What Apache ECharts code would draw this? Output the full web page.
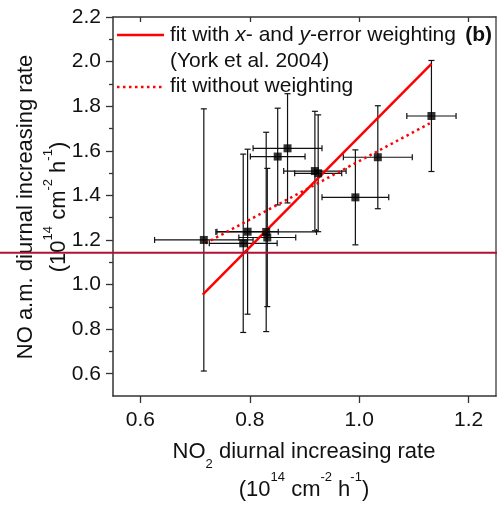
<!DOCTYPE html>
<html>
<head>
<meta charset="utf-8">
<script src="https://cdn.jsdelivr.net/npm/echarts@6/dist/echarts.min.js"></script>
<style>
  html, body { margin: 0; padding: 0; background: #fff; }
  #chart { width: 497px; height: 507px; }
</style>
</head>
<body>
<div id="chart"></div>
<script>
// tick labels
const X_TICKS = [0.6, 0.8, 1.0, 1.2];
const Y_TICKS = [0.6, 0.8, 1.0, 1.2, 1.4, 1.6, 1.8, 2.0, 2.2];
const Y_MINOR = [0.7, 0.9, 1.1, 1.3, 1.5, 1.7, 1.9, 2.1];

// measured points (10^14 cm-2 h-1)
const NO2_RATE = [0.716, 0.796, 0.788, 0.830, 0.832, 0.851, 0.869, 0.919, 0.925, 0.993, 1.034, 1.132];
const NO_RATE  = [1.200, 1.237, 1.185, 1.236, 1.211, 1.574, 1.611, 1.509, 1.499, 1.391, 1.571, 1.756];
const NO2_ERR  = [0.090, 0.056, 0.062, 0.092, 0.052, 0.050, 0.063, 0.057, 0.043, 0.061, 0.063, 0.045];
const NO_ERR   = [0.588, 0.370, 0.400, 0.447, 0.310, 0.217, 0.245, 0.268, 0.262, 0.213, 0.231, 0.249];

// fit lines (end points)
const YORK_X = [0.714, 1.132];
const YORK_Y = [0.955, 1.990];
const OLS_X  = [0.719, 1.129];
const OLS_Y  = [1.185, 1.723];

// horizontal reference line
const HLINE = 1.142;

const FONT = '"Liberation Sans", Arial, sans-serif';
const AX = '#333';

var chart = echarts.init(document.getElementById('chart'));

const points = NO2_RATE.map((x, i) => [x, NO_RATE[i], NO2_ERR[i], NO_ERR[i]]);

function errBar(params, api) {
  const x = api.value(0), y = api.value(1), ex = api.value(2), ey = api.value(3);
  const t = api.coord([x, y + ey]), b = api.coord([x, y - ey]);
  const l = api.coord([x - ex, y]), r = api.coord([x + ex, y]);
  const c = 3;
  const st = { stroke: '#111', lineWidth: 1.2 };
  const ln = (x1, y1, x2, y2) => ({ type: 'line', shape: { x1, y1, x2, y2 }, style: st });
  return {
    type: 'group',
    children: [
      ln(t[0], t[1], b[0], b[1]),
      ln(t[0] - c, t[1], t[0] + c, t[1]),
      ln(b[0] - c, b[1], b[0] + c, b[1]),
      ln(l[0], l[1], r[0], r[1]),
      ln(l[0], l[1] - c, l[0], l[1] + c),
      ln(r[0], r[1] - c, r[0], r[1] + c)
    ]
  };
}

const GRID = { left: 113, top: 17, right: 1, bottom: 111 };

var option = {
  animation: false,
  grid: [
    Object.assign({}, GRID),
    Object.assign({}, GRID)
  ],
  xAxis: [
    {
      type: 'value', gridIndex: 0, position: 'bottom', min: 0.55, max: 1.25,
      splitLine: { show: false },
      axisLine: { lineStyle: { color: AX, width: 1.5 } },
      axisTick: { customValues: X_TICKS, length: 7, lineStyle: { color: AX, width: 1.3 } },
      axisLabel: { customValues: X_TICKS, formatter: v => v.toFixed(1), fontSize: 21, fontFamily: FONT, color: '#111', margin: 14 }
    },
    {
      type: 'value', gridIndex: 0, position: 'top', min: 0.55, max: 1.25,
      splitLine: { show: false },
      axisLine: { lineStyle: { color: AX, width: 1.5 } },
      axisTick: { customValues: X_TICKS, inside: true, length: 5, lineStyle: { color: AX, width: 1.3 } },
      axisLabel: { show: false }
    },
    { type: 'value', gridIndex: 1, min: 0.55, max: 1.25, show: false }
  ],
  yAxis: [
    {
      type: 'value', gridIndex: 0, position: 'left', min: 0.5, max: 2.2,
      splitLine: { show: false },
      axisLine: { lineStyle: { color: AX, width: 1.5 } },
      axisTick: { customValues: Y_TICKS, length: 7, lineStyle: { color: AX, width: 1.3 } },
      axisLabel: { customValues: Y_TICKS, formatter: v => v.toFixed(1), fontSize: 21, fontFamily: FONT, color: '#111', margin: 12 }
    },
    {
      type: 'value', gridIndex: 0, position: 'right', min: 0.5, max: 2.2,
      splitLine: { show: false },
      axisLine: { lineStyle: { color: '#555', width: 1.5 } },
      axisTick: { show: false },
      axisLabel: { show: false }
    },
    {
      type: 'value', gridIndex: 1, position: 'left', min: 0.5, max: 2.2,
      splitLine: { show: false },
      axisLine: { show: false },
      axisTick: { customValues: Y_MINOR, length: 4, lineStyle: { color: AX, width: 1.3 } },
      axisLabel: { show: false }
    }
  ],
  series: [
    {
      name: 'errors', type: 'custom', xAxisIndex: 0, yAxisIndex: 0,
      renderItem: errBar, data: points, encode: { x: 0, y: 1 }, z: 2
    },
    {
      name: 'York', type: 'line', xAxisIndex: 0, yAxisIndex: 0,
      data: YORK_X.map((x, i) => [x, YORK_Y[i]]),
      symbol: 'none', lineStyle: { color: '#ff0000', width: 2.5 }, z: 3
    },
    {
      name: 'OLS', type: 'line', xAxisIndex: 0, yAxisIndex: 0,
      data: OLS_X.map((x, i) => [x, OLS_Y[i]]),
      symbol: 'none', lineStyle: { color: '#ff0000', width: 2.5, type: [2.5, 3.5] }, z: 3
    },
    {
      name: 'points', type: 'scatter', xAxisIndex: 0, yAxisIndex: 0,
      data: points.map(p => [p[0], p[1]]),
      symbol: 'rect', symbolSize: 8, itemStyle: { color: '#000' }, z: 4
    }
  ]
};
chart.setOption(option);

// overlays: legend, axis titles, panel label, full-width reference line
const hy = chart.convertToPixel({ xAxisIndex: 0, yAxisIndex: 0 }, [1.0, HLINE])[1];
const sup = { fontSize: 13, fontFamily: FONT, verticalAlign: 'top', lineHeight: 26 };
const sub = { fontSize: 13, fontFamily: FONT, verticalAlign: 'bottom', lineHeight: 22 };
const txt = (o) => Object.assign({ fill: '#111', font: '21px ' + FONT }, o);

chart.setOption({
  graphic: [
    { type: 'line', z: 10, shape: { x1: 117, y1: 35, x2: 164, y2: 35 }, style: { stroke: '#ff0000', lineWidth: 2.5 } },
    { type: 'line', z: 10, shape: { x1: 117, y1: 87, x2: 164, y2: 87 }, style: { stroke: '#ff0000', lineWidth: 2.5, lineDash: [2.5, 3.5] } },
    { type: 'text', z: 10, x: 170, y: 35, style: txt({
        text: 'fit with {i|x}- and {i|y}-error weighting', verticalAlign: 'middle',
        rich: { i: { fontStyle: 'italic', fontSize: 21, fontFamily: FONT } } }) },
    { type: 'text', z: 10, x: 170, y: 61, style: txt({ text: '(York et al. 2004)', verticalAlign: 'middle' }) },
    { type: 'text', z: 10, x: 170, y: 86, style: txt({ text: 'fit without weighting', verticalAlign: 'middle' }) },
    { type: 'text', z: 10, x: 492, y: 35, style: txt({ text: '(b)', font: 'bold 21px ' + FONT, align: 'right', verticalAlign: 'middle' }) },
    { type: 'text', z: 10, x: 304, y: 471, style: txt({
        text: 'NO{sub|2} diurnal increasing rate\n(10{sup|14} cm{sup|-2} h{sup|-1})',
        font: '22px ' + FONT, lineHeight: 38, align: 'center', verticalAlign: 'middle',
        rich: { sup: sup, sub: sub } }) },
    { type: 'text', z: 10, x: 42, y: 207, rotation: Math.PI / 2, style: txt({
        text: 'NO a.m. diurnal increasing rate\n(10{sup|14} cm{sup|-2} h{sup|-1})',
        font: '22px ' + FONT, lineHeight: 33, align: 'center', verticalAlign: 'middle',
        rich: { sup: sup } }) },
    { type: 'line', z: 20, shape: { x1: 0, y1: hy, x2: 497, y2: hy }, style: { stroke: '#b21034', lineWidth: 2 } }
  ]
});
</script>
</body>
</html>
